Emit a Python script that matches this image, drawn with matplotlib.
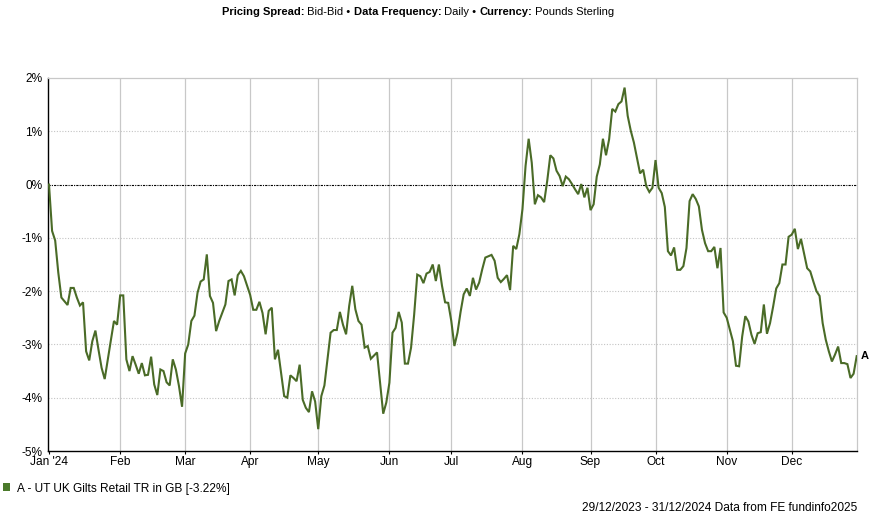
import numpy as np
import pandas as pd
import matplotlib
matplotlib.use("Agg")
import matplotlib.pyplot as plt
from matplotlib.patches import Rectangle

plt.rcParams['font.family'] = ['Liberation Sans', 'DejaVu Sans']

# trading days, 0 = 29/12/2023
trade_dates = pd.bdate_range("2023-12-29", "2024-12-31")

# day number -> cumulative growth in %
day = [
    1, 2, 3, 4, 5, 6, 7, 8, 9, 10, 11, 12, 13, 14, 15, 16, 17, 18, 19, 20,
    21, 22, 23, 24, 25, 26, 27, 28, 29, 30, 31, 32, 33, 34, 35, 36, 37, 38, 39, 40,
    41, 42, 43, 44, 45, 46, 47, 48, 49, 50, 51, 52, 53, 54, 55, 56, 58, 59, 60, 61,
    62, 63, 64, 66, 67, 68, 69, 70, 71, 72, 73, 74, 75, 76, 77, 78, 79, 80, 81, 82,
    83, 84, 85, 86, 87, 88, 89, 90, 91, 92, 93, 94, 95, 96, 97, 98, 99, 100, 101, 102,
    103, 104, 105, 106, 107, 108, 109, 110, 111, 112, 113, 114, 115, 116, 117, 118, 119, 120, 121, 122,
    123, 124, 125, 126, 127, 128, 129, 130, 131, 132, 133, 134, 135, 136, 137, 138, 139, 140, 141, 142,
    144, 145, 146, 147, 148, 149, 150, 151, 152, 153, 154, 155, 156, 157, 158, 159, 160, 161, 162, 163,
    164, 165, 166, 167, 168, 169, 170, 171, 172, 173, 174, 175, 176, 177, 178, 179, 180, 181, 182, 183,
    184, 185, 186, 187, 188, 189, 190, 191, 192, 193, 194, 195, 196, 197, 198, 199, 200, 201, 202, 203,
    204, 205, 206, 207, 208, 209, 210, 211, 212, 213, 214, 215, 216, 217, 218, 219, 220, 221, 222, 223,
    224, 225, 226, 227, 228, 229, 230, 231, 232, 233, 234, 235, 236, 237, 238, 239, 240, 241, 242, 243,
    244, 245, 246, 247, 248, 249, 250, 251, 252, 253, 254, 255, 256, 257, 258, 259, 260, 261, 262,
]
growth = [
    0.00, -0.87, -1.05, -1.65, -2.12, -2.19, -2.26, -1.94, -1.94, -2.12, -2.27, -2.21, -3.13, -3.30, -2.94, -2.74, -3.10, -3.44, -3.65, -3.28,
    -2.92, -2.56, -2.63, -2.08, -2.08, -3.28, -3.50, -3.22, -3.38, -3.55, -3.35, -3.58, -3.57, -3.23, -3.75, -3.95, -3.47, -3.50, -3.71, -3.77,
    -3.28, -3.47, -3.78, -4.17, -3.17, -3.00, -2.56, -2.46, -2.03, -1.82, -1.78, -1.31, -2.09, -2.22, -2.75, -2.56, -2.25, -1.81, -1.78, -2.08,
    -1.70, -1.62, -1.72, -2.07, -2.35, -2.35, -2.20, -2.41, -2.81, -2.37, -2.31, -3.28, -3.10, -3.53, -3.97, -4.00, -3.58, -3.63, -3.69, -3.38,
    -4.04, -4.19, -4.27, -3.88, -4.07, -4.59, -3.97, -3.77, -3.28, -2.78, -2.73, -2.73, -2.39, -2.63, -2.81, -2.28, -1.90, -2.34, -2.56, -2.63,
    -3.06, -3.03, -3.27, -3.21, -3.15, -3.72, -4.30, -4.09, -3.72, -2.78, -2.69, -2.39, -2.59, -3.36, -3.36, -3.06, -2.44, -1.69, -1.72, -1.85,
    -1.67, -1.64, -1.50, -1.81, -1.50, -1.90, -2.21, -2.22, -2.56, -3.03, -2.78, -2.39, -2.06, -1.95, -2.09, -1.75, -1.97, -1.84, -1.59, -1.37,
    -1.32, -1.43, -1.75, -1.83, -1.77, -1.70, -1.98, -1.15, -1.21, -0.93, -0.46, 0.35, 0.86, 0.41, -0.37, -0.20, -0.24, -0.33, 0.07, 0.55,
    0.49, 0.26, 0.16, -0.03, 0.15, 0.10, 0.01, -0.09, -0.18, 0.01, -0.24, -0.06, -0.48, -0.37, 0.15, 0.38, 0.86, 0.55, 0.85, 1.42,
    1.37, 1.51, 1.56, 1.82, 1.29, 1.01, 0.79, 0.50, 0.21, 0.28, -0.03, -0.14, -0.06, 0.46, -0.06, -0.16, -0.42, -1.25, -1.33, -1.18,
    -1.60, -1.60, -1.53, -1.19, -0.31, -0.18, -0.27, -0.41, -0.85, -1.10, -1.25, -1.25, -1.17, -1.57, -1.19, -2.40, -2.50, -2.72, -2.94, -3.40,
    -3.41, -2.85, -2.47, -2.57, -2.82, -2.99, -2.79, -2.77, -2.25, -2.80, -2.60, -2.29, -1.95, -1.85, -1.50, -1.50, -0.98, -0.94, -0.83, -1.21,
    -1.02, -1.30, -1.57, -1.63, -1.82, -2.00, -2.09, -2.60, -2.91, -3.13, -3.32, -3.19, -3.04, -3.35, -3.35, -3.37, -3.63, -3.55, -3.22,
]

month_labels = ["Jan '24", "Feb", "Mar", "Apr", "May", "Jun",
                "Jul", "Aug", "Sep", "Oct", "Nov", "Dec"]
y_ticks = [-5, -4, -3, -2, -1, 0, 1, 2]
series_name = "A - UT UK Gilts Retail TR in GB [-3.22%]"
footer = "29/12/2023 - 31/12/2024 Data from FE fundinfo2025"
title_parts = [("Pricing Spread:", "bold"), (" Bid-Bid \u2022 ", "normal"),
               ("Data Frequency:", "bold"), (" Daily \u2022 ", "normal"),
               ("Currency:", "bold"), (" Pounds Sterling", "normal")]

green = "#4a6b27"
W, H = 873, 526
fs = 8.6

fig = plt.figure(figsize=(W / 100, H / 100), dpi=100)
ax = fig.add_axes([48 / W, 1 - 451 / H, (857 - 48) / W, (451 - 78) / H])

# month ticks at first trading day of each month
months = trade_dates.to_period("M")
month_pos = [int(np.argmax(months == p)) for p in months.unique()[1:]]

for v in y_ticks[1:-1]:
    if v != 0:
        ax.axhline(v, color="#c4c4c4", lw=0.8, ls=(0, (1, 1.5)), zorder=1)
for p in month_pos[1:]:
    ax.axvline(p, color="#c8c8c8", lw=0.9, zorder=1)
ax.axhline(0, color="black", lw=0.8, ls=(0, (2, 1, 1, 1)), zorder=2)

ax.plot(day, growth, color=green, lw=1.5, zorder=3, solid_joinstyle="miter")
ax.annotate("A", (day[-1], growth[-1]), xytext=(3, 0), textcoords="offset points",
            fontsize=8, fontweight="bold", va="center", ha="left", annotation_clip=False)

ax.set_xlim(0.68, 262.1)
ax.set_ylim(-5, 2)
ax.set_xticks(month_pos)
ax.set_xticklabels(month_labels)
ax.set_yticks(y_ticks)
ax.set_yticklabels([f"{v}%" for v in y_ticks])
ax.tick_params(axis="x", length=2.5, width=0.8, pad=0.8, labelsize=fs, colors="black")
ax.tick_params(axis="y", length=0, pad=4, labelsize=fs)

for s in ["top", "right"]:
    ax.spines[s].set_color("#c8c8c8")
    ax.spines[s].set_linewidth(0.9)
for s in ["left", "bottom"]:
    ax.spines[s].set_color("black")
    ax.spines[s].set_linewidth(1.0)

# legend
fig.add_artist(Rectangle((3 / W, 1 - 491 / H), 7 / W, 8 / H, transform=fig.transFigure,
                         color="#4b7a2b", lw=0))
fig.text(17 / W, 1 - 489 / H, series_name, fontsize=fs, va="center", ha="left")

fig.text(857 / W, 1 - 508 / H, footer, fontsize=fs, va="center", ha="right")

# title with bold and plain pieces
renderer = fig.canvas.get_renderer()
pieces = []
for txt, weight in title_parts:
    t = fig.text(0, 1 - 12 / H, txt, fontsize=8, fontweight=weight, va="center", ha="left")
    pieces.append(t)
widths = [t.get_window_extent(renderer).width for t in pieces]
x = 418 - sum(widths) / 2
for t, w in zip(pieces, widths):
    t.set_x(x / W)
    x += w

fig.savefig("out.png", dpi=100)
